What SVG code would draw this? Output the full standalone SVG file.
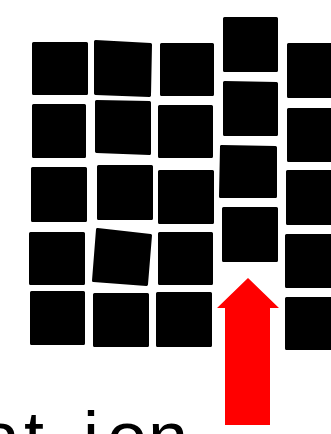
<svg xmlns="http://www.w3.org/2000/svg" width="331" height="434" viewBox="0 0 331 434">
<style>
.sq{fill:#000;stroke:#000;stroke-width:3;stroke-linejoin:round}
.arrow{fill:#ff0000}
.lbl{font-family:"Liberation Sans","DejaVu Sans",sans-serif;font-size:72px;fill:#000}
</style>
<rect width="331" height="434" fill="#fff"/>
<g id="col1">
<polygon class="sq" points="33.5,43.5 86.5,43.5 86.5,93.5 33.5,93.5"/>
<polygon class="sq" points="33.5,105.5 84.5,105.5 84.5,156.5 33.5,156.5"/>
<polygon class="sq" points="32.5,168.5 85.5,168.5 85.5,220.5 32.5,220.5"/>
<polygon class="sq" points="30.5,233.5 83.5,233.5 83.5,283.5 30.5,283.5"/>
<polygon class="sq" points="31.5,292.5 83.5,292.5 83.5,343.5 31.5,343.5"/>
</g>
<g id="col2">
<polygon class="sq" points="95.5,41.5 150.5,44.5 149.5,95.5 95.5,93.5"/>
<polygon class="sq" points="96.5,101.5 149.5,102.5 149.5,153.5 96.5,151.5"/>
<polygon class="sq" points="98.5,166.5 151.5,166.5 151.5,218.5 98.5,218.5"/>
<polygon class="sq" points="97.5,229.5 150.5,235.5 146.5,284.5 93.5,280.5"/>
<polygon class="sq" points="94.5,294.5 147.5,294.5 147.5,345.5 94.5,345.5"/>
</g>
<g id="col3">
<polygon class="sq" points="161.5,44.5 212.5,44.5 212.5,94.5 161.5,94.5"/>
<polygon class="sq" points="159.5,106.5 211.5,106.5 211.5,156.5 159.5,156.5"/>
<polygon class="sq" points="159.5,171.5 212.5,171.5 212.5,222.5 159.5,222.5"/>
<polygon class="sq" points="159.5,233.5 211.5,233.5 211.5,283.5 159.5,283.5"/>
<polygon class="sq" points="157.5,293.5 210.5,293.5 210.5,345.5 157.5,345.5"/>
</g>
<g id="col4">
<polygon class="sq" points="224.5,18.5 276.5,18.5 276.5,70.5 224.5,70.5"/>
<polygon class="sq" points="224.5,82.5 276.5,83.5 276.5,134.5 224.5,134.5"/>
<polygon class="sq" points="221.5,146.5 275.5,147.5 275.5,196.5 220.5,196.5"/>
<polygon class="sq" points="223.5,208.5 276.5,208.5 276.5,260.5 223.5,260.5"/>
</g>
<g id="col5">
<polygon class="sq" points="288.5,44.5 340,44.5 340,96.5 288.5,96.5"/>
<polygon class="sq" points="288.5,109.5 340,109.5 340,160.5 288.5,160.5"/>
<polygon class="sq" points="287.5,171.5 340,171.5 340,223.5 287.5,223.5"/>
<polygon class="sq" points="286.5,235.5 340,235.5 340,286.5 286.5,286.5"/>
<polygon class="sq" points="286.5,298.5 340,298.5 340,348.5 286.5,348.5"/>
</g>
<g id="connectors">
<polygon id="arrow" class="arrow" points="248,278 279,308 270,308 270,425 225,425 225,308 217,308"/>
</g>
<g id="label">
<text class="lbl" y="462"><tspan x="-20">a</tspan><tspan x="24">t</tspan><tspan x="83">i</tspan><tspan x="107">o</tspan><tspan x="148">n</tspan></text>
</g>
</svg>
